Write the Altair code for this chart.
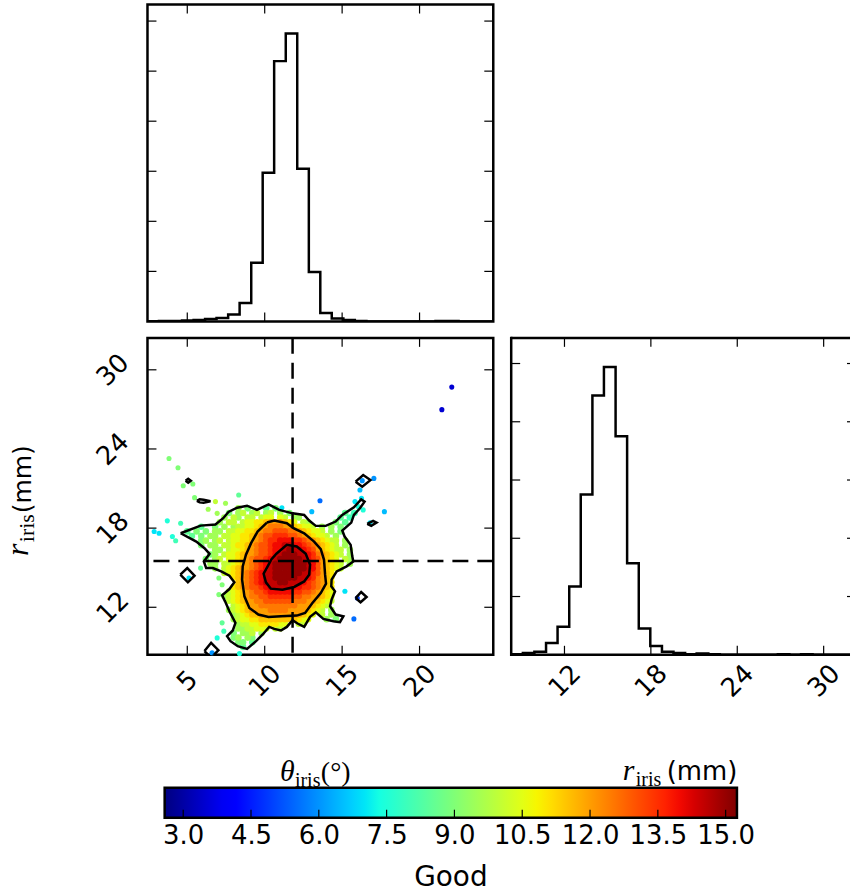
import altair as alt
import numpy as np
import pandas as pd

# ------------------------------------------------------------------ data
theta_domain = [2.43, 24.76]          # x range of the left column
r_domain_scatter = [8.40, 32.42]      # y range of the scatter
r_domain_hist = [8.30, 31.83]         # x range of the right histogram (visible part)
top_count_domain = [0, 6.33]
right_count_domain = [0, 5.44]
color_domain = [2.59, 15.25]
cbar_axis_domain = [2.21, 15.26]

theta_ticks = [5, 10, 15, 20]
r_ticks = [12, 18, 24, 30]
top_count_ticks = [1, 2, 3, 4, 5, 6]
right_count_ticks = [1, 2, 3, 4, 5]
cbar_ticks = [3.0, 4.5, 6.0, 7.5, 9.0, 10.5, 12.0, 13.5, 15.0]

theta_marker = 11.80
r_marker = 15.50

theta_edges = [2.43, 3.17, 3.92, 4.66, 5.41, 6.15, 6.89, 7.64, 8.38, 9.13, 9.87,
               10.61, 11.36, 12.10, 12.85, 13.59, 14.33, 15.08, 15.82, 16.57, 17.31,
               18.05, 18.80, 19.54, 20.29, 21.03, 21.77, 22.52, 23.26, 24.01, 24.75]
theta_counts = [0.005, 0.01, 0.01, 0.02, 0.03, 0.05, 0.07, 0.14, 0.37, 1.17,
                2.97, 5.20, 5.75, 3.05, 0.99, 0.17, 0.06, 0.03, 0.01, 0.0,
                0.0, 0.0, 0.0, 0.0, 0.0, 0.01, 0.01, 0.0, 0.0, 0.0]

r_edges = [8.30, 9.11, 9.91, 10.72, 11.52, 12.33, 13.13, 13.94, 14.74, 15.55, 16.35,
           17.16, 17.96, 18.77, 19.57, 20.38, 21.18, 21.99, 22.79, 23.60, 24.40,
           25.21, 26.01, 26.82, 27.62, 28.43, 29.23, 30.04, 30.84, 31.65, 32.45]
r_counts = [0.01, 0.03, 0.05, 0.20, 0.48, 1.17, 2.75, 4.45, 4.94, 3.75,
            1.57, 0.45, 0.15, 0.05, 0.03, 0.01, 0.02, 0.01, 0.0, 0.0,
            0.0, 0.0, 0.0, 0.01, 0.0, 0.01, 0.0, 0.0, 0.0, 0.0]

# density-coloured scatter on a regular grid
# letters: A=3.0, B=3.5, ... (steps of 0.5), '.' = no point
grid_x = [4.7, 5.0, 5.3, 5.6, 5.9, 6.2, 6.5, 6.8, 7.1, 7.4, 7.7, 8.0, 8.3, 8.6, 8.9,
          9.2, 9.5, 9.8, 10.1, 10.4, 10.7, 11.0, 11.3, 11.6, 11.9, 12.2, 12.5, 12.8,
          13.1, 13.4, 13.7, 14.0, 14.3, 14.6, 14.9, 15.2, 15.5, 15.8, 16.1, 16.4]
grid_y = [19.5, 19.15, 18.8, 18.45, 18.1, 17.75, 17.4, 17.05, 16.7, 16.35, 16.0,
          15.65, 15.3, 14.95, 14.6, 14.25, 13.9, 13.55, 13.2, 12.85, 12.5, 12.15,
          11.8, 11.45, 11.1, 10.75, 10.4, 10.05, 9.7, 9.35, 9.0]
density_rows = [
    ".........." "..N.M...L." "M........." "..........",
    ".........." "M.NO.NO.NO" ".N.M......" ".....L.K..",
    ".........N" ".ON.OO.OPP" ".PO.NN...." "....L.K...",
    "........N." "OO.OPPQQRS" "SSRQP.ON.." "...M.L....",
    "....L..M.N" ".NOOPPQRST" "TTSSRQPPO." "N.N.M.....",
    ".L.M.M.NN." "OOPPQQRSTT" "UUUTTSRQPP" "O.N.M.....",
    "..L.M.NN.O" "OPPQQRSTUU" "VVVUUTSRQP" "PO.N......",
    "....MN.NO." "OPPQQRSTUV" "VWWWVVUTSR" "QPOO.N....",
    "....M.NN.O" "OPQQRSTUUV" "WWXXWWVUTS" "RQPO.N....",
    ".......NN." "OPPQRSTUUV" "WWXYXXWVUS" "RQPOO.N...",
    "......MN.O" "PPQRSSTUUV" "WXYYYXXWVT" "SRQPO.N...",
    ".....M.NO." "PPQRSTUUVW" "XYYYYYXWVU" "SRQP.ON...",
    "......NN.O" "OPQRSTUVWX" "YYYYYYYXWU" "SRQPO.N...",
    ".......N.O" "PQRSSTUVWX" "YYYYYYYXWU" "SRQPO.....",
    ".........O" "PQRSTUVWXX" "YYYYYYXXVU" "SRQ.......",
    ".........." ".QRSTUVWXX" "YYYYYXXWVT" "SRQ.......",
    ".........." "..RSTUVWXX" "XYYXXXWVUT" "SRQ.......",
    ".........." ".QRSTUUVWX" "XXXXWWVVUT" "SRQ.......",
    ".........." "OPQRSTUUVW" "WWWWVVUUTS" "RQP.......",
    ".........N" "OPQRSTTUUV" "VVVVUUTTSS" "RQP.......",
    ".........." "OPQRSSTTUU" "UUUUTTTSSR" "QPO.......",
    ".........." ".OPQRSSTTT" "TTTTTSSSRQ" "PO........",
    ".........." "NOPQRSSSST" "TTTSSSSRQP" "O.N.......",
    ".........." ".NOPQRRSSS" "SSSSSSRQP." "O.N.......",
    ".........." ".NOPPQQRRR" "RRRRRQPP.." ".N.M......",
    ".........." "..NOOPPQQQ" "QPP..OO..." "..........",
    ".........." "..NNOOPPO." "OO........" "..........",
    ".........." ".M.NNO.N.." ".........." "..........",
    ".........." ".MN.NM...." ".........." "..........",
    ".........." "..MM.L...." ".........." "..........",
    ".........." "...L......" ".........." "..........",
]
# isolated points outside the dense cloud
sparse_x = [3.82, 4.40, 4.74, 5.36, 5.47, 6.82, 7.47, 8.32, 6.35, 6.93, 4.57, 3.71,
            2.86, 3.18, 4.04, 4.25, 11.11, 13.57, 13.04, 16.15, 16.30, 15.83, 16.25,
            16.04, 16.36, 15.72, 17.05, 17.73, 15.18, 15.98, 15.76, 21.44, 22.08,
            5.11, 5.86, 7.04, 7.25, 7.04, 7.25, 7.36, 6.93, 6.60, 8.37, 16.80]
sparse_y = [23.28, 22.57, 21.21, 21.34, 20.31, 20.01, 19.88, 20.51, 19.43, 19.12,
            18.37, 18.55, 17.74, 17.61, 17.36, 17.04, 19.55, 20.08, 19.25, 20.89,
            21.60, 20.01, 20.26, 19.63, 19.38, 19.12, 21.77, 19.25, 13.21, 12.70,
            11.12, 26.98, 28.69, 14.22, 14.97, 14.22, 13.71, 12.96, 10.82, 10.19,
            9.68, 8.55, 8.50, 18.40]
sparse_v = [9.0, 9.0, 9.0, 9.0, 9.0, 10.0, 9.5, 8.5, 9.5, 9.5, 8.0, 7.5, 7.0, 7.0,
            7.5, 8.0, 7.0, 5.5, 6.5, 6.5, 6.0, 7.0, 7.0, 7.5, 7.5, 8.0, 6.0, 6.5,
            7.0, 5.0, 5.5, 3.5, 3.5, 7.0, 8.5, 9.0, 9.0, 9.0, 8.5, 8.0, 7.5, 6.0,
            7.5, 7.0]

# contour lines (closed polygons)
outer_x = [4.57, 5.86, 6.82, 7.32, 7.66, 8.22, 8.86, 9.50, 10.25, 10.94, 11.80, 12.55,
           12.87, 13.30, 13.94, 14.58, 15.01, 15.76, 16.23, 16.45, 16.15, 15.76, 15.59,
           15.01, 15.16, 15.55, 15.65, 15.72, 15.29, 14.65, 14.32, 14.30, 14.54, 14.32,
           14.22, 14.58, 15.08, 14.86, 14.43, 13.79, 13.30, 12.93, 12.55, 12.12, 11.80,
           11.43, 11.05, 10.62, 10.29, 9.87, 9.44, 8.86, 8.26, 7.79, 7.57, 7.94, 8.11,
           7.72, 7.44, 7.25, 7.72, 8.04, 7.72, 7.19, 6.65, 6.22, 6.07, 6.44, 6.11, 5.58,
           4.57]
outer_y = [17.61, 18.19, 18.27, 18.75, 19.23, 19.55, 19.70, 19.38, 19.80, 19.38, 19.12,
           19.00, 18.57, 18.17, 18.17, 18.50, 19.00, 19.58, 20.18, 20.01, 19.50, 19.00,
           18.42, 17.82, 17.36, 16.73, 15.90, 15.47, 15.10, 14.72, 14.09, 13.59, 13.21,
           12.58, 12.08, 11.45, 11.32, 10.87, 10.94, 11.12, 11.62, 11.27, 10.51, 10.77,
           11.02, 10.51, 10.24, 10.36, 10.51, 9.94, 9.43, 8.85, 9.05, 9.43, 9.81, 10.24,
           10.82, 11.70, 12.45, 12.91, 13.38, 13.89, 14.39, 14.72, 14.97, 14.97, 15.47,
           16.05, 16.48, 16.98, 17.61]
middle_x = [10.14, 10.62, 11.43, 11.86, 12.55, 13.19, 13.62, 13.83, 13.90, 13.96, 13.62,
            13.08, 12.61, 12.07, 11.05, 10.25, 9.59, 9.01, 8.69, 8.54, 8.58, 8.79, 9.12,
            9.54, 10.14]
middle_y = [18.42, 18.57, 18.37, 17.99, 17.61, 16.98, 16.41, 15.60, 14.47, 13.79, 13.08,
            12.33, 11.57, 11.37, 11.32, 11.27, 11.45, 11.95, 12.83, 14.09, 15.10, 15.98,
            16.86, 17.74, 18.42]
inner_x = [10.79, 11.43, 12.07, 12.65, 12.93, 12.87, 12.55, 11.90, 11.15, 10.40, 10.08,
           9.93, 10.19, 10.44, 10.79]
inner_y = [16.10, 16.73, 16.61, 16.05, 15.22, 14.47, 13.96, 13.54, 13.33, 13.41, 13.89,
           14.54, 15.10, 15.65, 16.10]
island_x = [
    [4.89, 5.06, 5.23, 5.06, 4.89],
    [5.62, 5.80, 6.05, 6.50, 6.05, 5.80, 5.62],
    [15.87, 16.36, 16.83, 16.30, 15.87],
    [16.62, 17.00, 17.22, 16.88, 16.62],
    [4.55, 5.00, 5.47, 5.04, 4.55],
    [15.87, 16.23, 16.58, 16.19, 15.87],
    [6.11, 6.54, 7.01, 6.54, 6.11],
]
island_y = [
    [21.59, 21.74, 21.59, 21.44, 21.59],
    [20.06, 20.18, 20.15, 20.03, 19.93, 19.95, 20.06],
    [21.52, 22.02, 21.64, 21.14, 21.52],
    [18.32, 18.55, 18.42, 18.17, 18.32],
    [14.47, 14.97, 14.39, 13.89, 14.47],
    [12.70, 13.16, 12.78, 12.38, 12.70],
    [8.68, 9.31, 8.75, 8.17, 8.68],
]

# ------------------------------------------------------------------ style
W1, W2, H = 347, 340, 318
TICK = 9
FONT = "DejaVu Sans"
SERIF = "Liberation Serif"
LW = 2.5

_JET = {
    "r": ([0.0, 0.35, 0.66, 0.89, 1.0], [0.0, 0.0, 1.0, 1.0, 0.5]),
    "g": ([0.0, 0.125, 0.375, 0.64, 0.91, 1.0], [0.0, 0.0, 1.0, 1.0, 0.0, 0.0]),
    "b": ([0.0, 0.11, 0.34, 0.65, 1.0], [0.5, 1.0, 1.0, 0.0, 0.0]),
}


def jet_hex(t):
    c = [np.interp(t, *_JET[k]) for k in ("r", "g", "b")]
    return "#%02x%02x%02x" % tuple(int(round(v * 255)) for v in c)


stop_t = np.linspace(0.0, 1.0, 41)
jet_colors = [jet_hex(t) for t in stop_t]
color_scale = alt.Scale(
    domain=[float(color_domain[0] + t * (color_domain[1] - color_domain[0])) for t in stop_t],
    range=jet_colors, interpolate="rgb")

one = pd.DataFrame({"a": [0]})


def qscale(dom):
    return alt.Scale(domain=dom, nice=False, zero=False)


def rot_axis(values, pad):
    return alt.Axis(values=values, ticks=False, domain=False, grid=False,
                    labelAngle=315, labelAlign="center", labelBaseline="middle",
                    labelFontSize=26, labelFont=FONT, labelColor="black",
                    labelPadding=pad, labelFlush=False, labelOverlap=False,
                    format="d", title="")


def tick_layers(xvals, yvals, xenc, yenc, W, right_len=TICK):
    dfx = pd.DataFrame({"x": xvals})
    dfy = pd.DataFrame({"y": yvals})
    kw = dict(color="black", strokeWidth=1.2)
    return [
        alt.Chart(dfx).mark_rule(**kw).encode(x=xenc, y=alt.value(H), y2=alt.value(H - TICK)),
        alt.Chart(dfx).mark_rule(**kw).encode(x=xenc, y=alt.value(0), y2=alt.value(TICK)),
        alt.Chart(dfy).mark_rule(**kw).encode(y=yenc, x=alt.value(0), x2=alt.value(TICK)),
        alt.Chart(dfy).mark_rule(**kw).encode(y=yenc, x=alt.value(W - right_len), x2=alt.value(W)),
    ]


def label_piece(text, font, style, size, x, y, angle=0):
    return alt.Chart(one).mark_text(
        text=text, font=font, fontStyle=style, fontSize=size, angle=angle,
        align="left", baseline="alphabetic", color="black"
    ).encode(x=alt.value(x), y=alt.value(y))


# ------------------------------------------------------------------ top histogram
top_df = pd.DataFrame({"x": theta_edges, "y": theta_counts + [theta_counts[-1]]})
x_top = alt.X("x:Q", scale=qscale(theta_domain), axis=None)
y_top = alt.Y("y:Q", scale=qscale(top_count_domain), axis=None)
top_hist = alt.layer(
    alt.Chart(top_df).mark_line(interpolate="step-after", color="black",
                                strokeWidth=LW, clip=True).encode(x=x_top, y=y_top),
    *tick_layers(theta_ticks, top_count_ticks, x_top, y_top, W1),
).properties(width=W1, height=H)

blank = alt.Chart(one).mark_point(opacity=0).encode(
    x=alt.value(0), y=alt.value(0)
).properties(width=W2, height=H, view=alt.ViewBackground(strokeOpacity=0))

# ------------------------------------------------------------------ scatter
grid_pts = []
for j, row in enumerate(density_rows):
    for i, ch in enumerate(row):
        if ch != ".":
            grid_pts.append((grid_x[i], grid_y[j], 3.0 + 0.5 * (ord(ch) - 65)))
grid_df = pd.DataFrame(grid_pts, columns=["x", "y", "v"]).sort_values("v", kind="stable")
sparse_df = pd.DataFrame({"x": sparse_x, "y": sparse_y, "v": sparse_v})

con = []
polys = [outer_x, middle_x, inner_x] + island_x
polys_y = [outer_y, middle_y, inner_y] + island_y
for cid, (px, py) in enumerate(zip(polys, polys_y)):
    for k, (a, b) in enumerate(zip(px, py)):
        con.append((cid, k, a, b))
con_df = pd.DataFrame(con, columns=["cid", "k", "x", "y"])

x_sc = alt.X("x:Q", scale=qscale(theta_domain), axis=rot_axis(theta_ticks, 26))
y_sc = alt.Y("y:Q", scale=qscale(r_domain_scatter), axis=rot_axis(r_ticks, 35))
c_sc = alt.Color("v:Q", scale=color_scale, legend=None)

sparse_pts = alt.Chart(sparse_df).mark_circle(size=26, opacity=1).encode(
    x=x_sc, y=y_sc, color=c_sc)
dense_pts = alt.Chart(grid_df).mark_circle(size=44, opacity=1).encode(
    x=x_sc, y=y_sc, color=c_sc)
contours = alt.Chart(con_df).mark_line(color="black", strokeWidth=LW, clip=True).encode(
    x=x_sc, y=y_sc, detail="cid:N", order="k:Q")
vline = alt.Chart(pd.DataFrame({"x": [theta_marker]})).mark_rule(
    color="black", strokeWidth=LW, strokeDash=[16, 9]).encode(x=x_sc)
hline = alt.Chart(pd.DataFrame({"y": [r_marker]})).mark_rule(
    color="black", strokeWidth=LW, strokeDash=[16, 9]).encode(y=y_sc)

ylab = [
    label_piece("r", SERIF, "italic", 32, -120, 219, 270),
    label_piece("iris", SERIF, "normal", 22, -114, 205, 270),
    label_piece("(mm)", FONT, "normal", 25, -117, 176, 270),
]

scatter = alt.layer(
    sparse_pts, dense_pts, contours, vline, hline,
    *tick_layers(theta_ticks, r_ticks, x_sc, y_sc, W1),
    *ylab,
).properties(width=W1, height=H)

# ------------------------------------------------------------------ right histogram
rh_df = pd.DataFrame({"x": r_edges, "y": r_counts + [r_counts[-1]]})
x_rh = alt.X("x:Q", scale=qscale(r_domain_hist), axis=rot_axis(r_ticks, 26))
y_rh = alt.Y("y:Q", scale=qscale(right_count_domain), axis=None)
frame_kw = dict(color="black", strokeWidth=LW)
right_hist = alt.layer(
    alt.Chart(rh_df).mark_line(interpolate="step-after", color="black",
                               strokeWidth=LW, clip=True).encode(x=x_rh, y=y_rh),
    *tick_layers(r_ticks, right_count_ticks, x_rh, y_rh, W2, right_len=3),
    alt.Chart(one).mark_rule(strokeCap="square", **frame_kw).encode(
        x=alt.value(0), y=alt.value(0), y2=alt.value(H)),
    alt.Chart(one).mark_rule(**frame_kw).encode(
        x=alt.value(0), x2=alt.value(W2), y=alt.value(0)),
    alt.Chart(one).mark_rule(**frame_kw).encode(
        x=alt.value(0), x2=alt.value(W2), y=alt.value(H)),
).properties(width=W2, height=H, view=alt.ViewBackground(strokeOpacity=0))

# ------------------------------------------------------------------ colour bar
cb_x = alt.X("lo:Q", scale=qscale(cbar_axis_domain),
             axis=alt.Axis(values=cbar_ticks, format=".1f", ticks=False, domain=False,
                           grid=False, labelFontSize=26, labelFont=FONT,
                           labelColor="black", labelPadding=5, labelFlush=False,
                           labelOverlap=False, title="Good", titleFont=FONT,
                           titleFontSize=28, titleFontWeight="normal",
                           titleColor="black", titlePadding=15, titleX=304))
gradient = {"gradient": "linear", "x1": 0, "x2": 1, "y1": 0, "y2": 0,
            "stops": [{"offset": float(t), "color": c} for t, c in zip(stop_t, jet_colors)]}
bar = alt.Chart(pd.DataFrame({"lo": [color_domain[0]], "hi": [color_domain[1]]})).mark_rect(
    fill=gradient, stroke="black", strokeWidth=LW).encode(
    x=cb_x, x2="hi:Q", y=alt.value(0), y2=alt.value(30))
cb_tick = alt.Chart(pd.DataFrame({"lo": cbar_ticks})).mark_rule(
    color="black", strokeWidth=1.2).encode(x=cb_x, y=alt.value(30), y2=alt.value(22))
cb_labels = [
    label_piece("θ", SERIF, "italic", 30, 133, -7),
    label_piece("iris", SERIF, "normal", 20, 148, -1),
    label_piece("(°)", SERIF, "normal", 28, 174, -7),
    label_piece("r", SERIF, "italic", 30, 477, -8),
    label_piece("iris", SERIF, "normal", 20, 490, -2),
    label_piece("(mm)", FONT, "normal", 26, 521, -8),
]
colorbar = alt.layer(bar, cb_tick, *cb_labels).properties(
    width=592, height=30, view=alt.ViewBackground(strokeOpacity=0))

# ------------------------------------------------------------------ layout
grid = alt.concat(top_hist, blank, scatter, right_hist, columns=2,
                  spacing={"row": 16.5, "column": 18}, bounds="flush"
                  ).resolve_scale(x="independent", y="independent")
chart = alt.vconcat(grid, colorbar, spacing=786, bounds="flush").resolve_scale(
    x="independent", y="independent"
).properties(
    padding={"left": 0, "top": 0, "right": 0, "bottom": 0}
).configure(font=FONT).configure_view(stroke="black", strokeWidth=LW)

chart.save("out.html", embed_options={"renderer": "svg", "actions": False})
